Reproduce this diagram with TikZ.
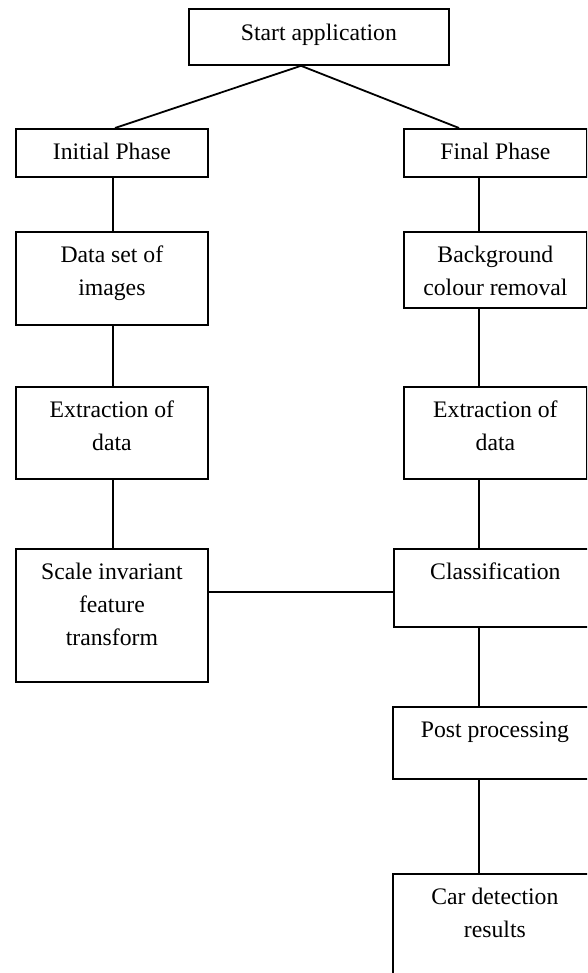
\documentclass[tikz,border=0pt]{standalone}
\usepackage{fontspec}
\setmainfont{Liberation Serif}
\usetikzlibrary{calc}
\begin{document}
\begin{tikzpicture}[x=1pt,y=-1pt,
  box/.style={draw, line width=1.8pt, inner sep=0pt, anchor=north west},
  txt/.style={anchor=north, inner sep=0pt, align=center, font=\fontsize{23.7pt}{33pt}\selectfont},
  conn/.style={line width=1.8pt}]
\useasboundingbox (0,0) rectangle (587,973);
\fill[white] (0,0) rectangle (587,973);
\clip (0,0) rectangle (587,973);
% boxes
\node[box, minimum width=260pt, minimum height=56pt] (start) at (188,8) {};
\node[box, minimum width=192pt, minimum height=48pt] (ip) at (15,128) {};
\node[box, minimum width=183pt, minimum height=48pt] (fp) at (403,128) {};
\node[box, minimum width=192pt, minimum height=93pt] (ds) at (15,231) {};
\node[box, minimum width=183pt, minimum height=76pt] (bg) at (403,231) {};
\node[box, minimum width=192pt, minimum height=92pt] (exl) at (15,386) {};
\node[box, minimum width=183pt, minimum height=92pt] (exr) at (403,386) {};
\node[box, minimum width=192pt, minimum height=133pt] (sift) at (15,548) {};
\node[box, minimum width=203pt, minimum height=78pt] (cls) at (393,548) {};
\node[box, minimum width=204pt, minimum height=72pt] (pp) at (392,706) {};
\node[box, minimum width=204pt, minimum height=140pt] (car) at (392,873) {};
% texts
\node[txt] (tstart) at ($(start.north)+(0,9)$) {\strut Start application};
\node[txt] (tip) at ($(ip.north)+(0,8)$) {\strut Initial Phase};
\node[txt] (tfp) at ($(fp.north)+(0,8)$) {\strut Final Phase};
\node[txt] (tds) at ($(ds.north)+(0,8)$) {\strut Data set of\\images};
\node[txt] (tbg) at ($(bg.north)+(0,8)$) {\strut Background\\colour removal};
\node[txt] (texl) at ($(exl.north)+(0,8)$) {\strut Extraction of\\data};
\node[txt] (texr) at ($(exr.north)+(0,8)$) {\strut Extraction of\\data};
\node[txt] (tsift) at ($(sift.north)+(0,8)$) {\strut Scale invariant\\feature\\transform};
\node[txt] (tcls) at ($(cls.north)+(0,8)$) {\strut Classification};
\node[txt] (tpp) at ($(pp.north)+(0,8)$) {\strut Post processing};
\node[txt] (tcar) at ($(car.north)+(0,8)$) {\strut Car detection\\results};
% connector positions
\coordinate (lx) at (113,0);
\coordinate (rx) at (479,0);
\coordinate (ax) at (301,0);
\coordinate (la) at (115,0);
\coordinate (ra) at (459,0);
\coordinate (hy) at (0,592);
% connectors
\draw[conn] (start.south -| ax) -- (ip.north -| la);
\draw[conn] (start.south -| ax) -- (fp.north -| ra);
\draw[conn] (ip.south -| lx) -- (ds.north -| lx);
\draw[conn] (ds.south -| lx) -- (exl.north -| lx);
\draw[conn] (exl.south -| lx) -- (sift.north -| lx);
\draw[conn] (fp.south -| rx) -- (bg.north -| rx);
\draw[conn] (bg.south -| rx) -- (exr.north -| rx);
\draw[conn] (exr.south -| rx) -- (cls.north -| rx);
\draw[conn] (sift.east |- hy) -- (cls.west |- hy);
\draw[conn] (cls.south -| rx) -- (pp.north -| rx);
\draw[conn] (pp.south -| rx) -- (car.north -| rx);
\end{tikzpicture}
\end{document}
